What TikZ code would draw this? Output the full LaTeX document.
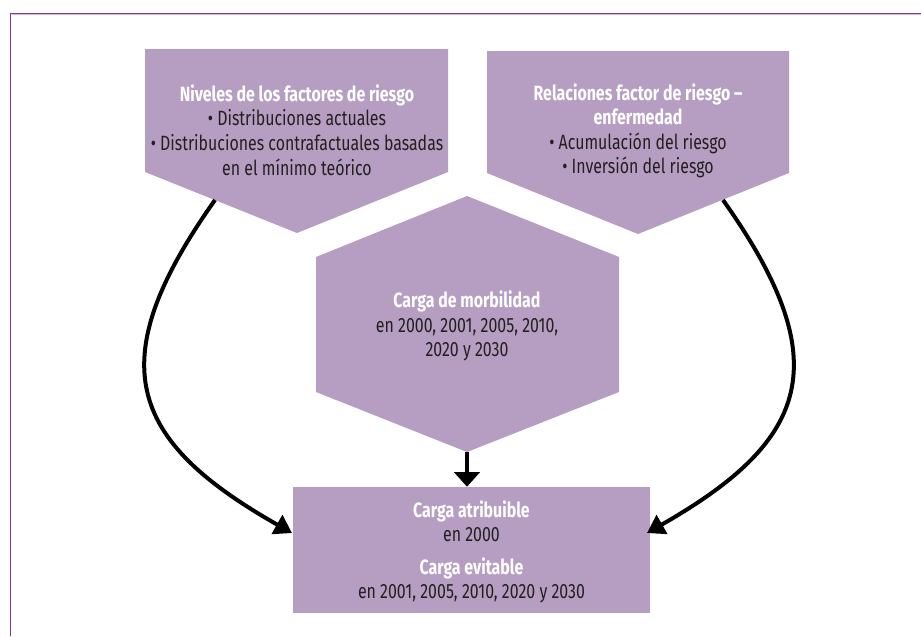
\documentclass[tikz,border=0pt]{standalone}
\usepackage{fontspec}
\setmainfont[FakeStretch=0.77]{Fira Sans}
\usetikzlibrary{arrows.meta}
\definecolor{boxfill}{RGB}{182,158,194}
\definecolor{framedark}{RGB}{120,58,148}
\definecolor{framelight}{RGB}{210,185,225}
\definecolor{bodytext}{RGB}{35,31,32}
\newcommand\hdtext[1]{{\color{white}\bfseries #1}}
\begin{document}
\begin{tikzpicture}[x=0.75pt,y=-0.75pt,
  txt/.style={align=center, text=bodytext, font=\fontsize{15.5}{18.4}\selectfont, inner sep=0pt},
  shapefill/.style={fill=boxfill},
  conn/.style={line width=3pt, -{Triangle[length=13pt,width=16pt]}},
  downarrow/.style={line width=3.6pt, -{Triangle[length=11pt,width=19pt]}}]
\useasboundingbox (0,0) rectangle (921,636);
% frame
\draw[framelight, line width=0.8pt] (11.5,14.6) -- (921,14.6);
\draw[framedark, line width=1.2pt] (10.5,636) -- (10.5,13.5) -- (921,13.5);
% left pentagon
\fill[shapefill] (145,49) -- (448,49) -- (448,172) -- (297,233) -- (145,172) -- cycle;
\node[txt] (niv) at (297,130) {\hdtext{Niveles de los factores de riesgo}\\ • Distribuciones actuales\\ • Distribuciones contrafactuales basadas\\ en el mínimo teórico};
% right pentagon
\fill[shapefill] (487,51) -- (789,51) -- (789,173) -- (638,234) -- (487,173) -- cycle;
\node[txt] (rel) at (638,131) {\hdtext{Relaciones factor de riesgo –}\\ \hdtext{enfermedad}\\ • Acumulación del riesgo\\ • Inversión del riesgo};
% hexagon
\fill[shapefill] (467,196) -- (619,257) -- (619,392) -- (467,452) -- (316,392) -- (316,257) -- cycle;
\node[txt] (carga) at (467,326) {\hdtext{Carga de morbilidad}\\ en 2000, 2001, 2005, 2010,\\ 2020 y 2030};
\coordinate (hexbot) at (467,452);
% result rectangle
\node[shapefill, minimum width=267.75pt, minimum height=94.5pt, inner sep=0pt] (res) at (471.5,550) {};
\node[txt] (restxt) at (471.5,552) {\hdtext{Carga atribuible}\\ en 2000\\[6pt] \hdtext{Carga evitable}\\ en 2001, 2005, 2010, 2020 y 2030};
% connectors
\coordinate (lstart) at (215,200);
\coordinate (lend) at (292,533);
\coordinate (rstart) at (723,200);
\coordinate (rend) at (647,533);
\draw[downarrow] (hexbot) -- (hexbot |- res.north);
\draw[conn] (lstart) .. controls (100,362) and (128,440) .. (lend);
\draw[conn] (rstart) .. controls (838,362) and (810,440) .. (rend);
\end{tikzpicture}
\end{document}
